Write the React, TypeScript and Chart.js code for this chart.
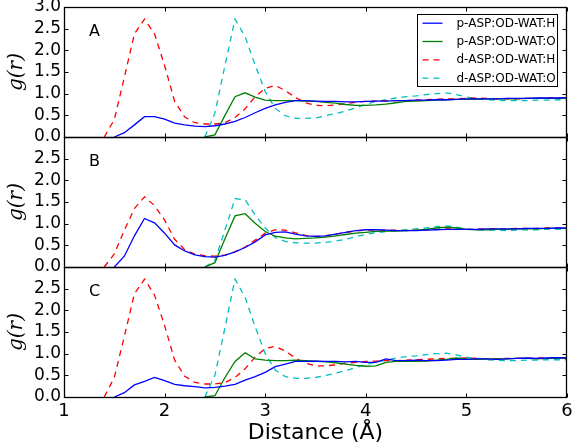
import React, { useEffect, useRef } from "react";
import { Chart, registerables } from "chart.js";
Chart.register(...registerables);

// distance grid (Å)
const DIST = [1.4, 1.5, 1.6, 1.7, 1.8, 1.9, 2.0, 2.1, 2.2, 2.3, 2.4, 2.5, 2.6, 2.7, 2.8, 2.9, 3.0, 3.1, 3.2, 3.3, 3.4, 3.5, 3.6, 3.7, 3.8, 3.9, 4.0, 4.1, 4.2, 4.3, 4.4, 4.5, 4.6, 4.7, 4.8, 4.9, 5.0, 5.1, 5.2, 5.3, 5.4, 5.5, 5.6, 5.7, 5.8, 5.9, 6.0];

const X_TICKS = [1, 2, 3, 4, 5, 6];
const Y_TICKS = [0, 0.5, 1.0, 1.5, 2.0, 2.5, 3.0];
const PANELS = ["A", "B", "C"];
const SERIES_NAMES = ["p-ASP:OD-WAT:H", "p-ASP:OD-WAT:O", "d-ASP:OD-WAT:H", "d-ASP:OD-WAT:O"];
const N = null;

// Panel A
const pH_A = [N, 0, 0.1, 0.28, 0.47, 0.47, 0.41, 0.32, 0.28, 0.25, 0.24, 0.26, 0.3, 0.36, 0.45, 0.56, 0.66, 0.74, 0.8, 0.84, 0.84, 0.83, 0.82, 0.82, 0.81, 0.81, 0.82, 0.83, 0.83, 0.84, 0.84, 0.85, 0.85, 0.86, 0.86, 0.87, 0.88, 0.88, 0.88, 0.88, 0.89, 0.89, 0.89, 0.9, 0.9, 0.9, 0.91];
const pO_A = [N, N, N, N, N, N, N, N, N, N, 0, 0.05, 0.5, 0.93, 1.02, 0.92, 0.85, 0.84, 0.84, 0.84, 0.83, 0.82, 0.8, 0.78, 0.75, 0.73, 0.73, 0.74, 0.76, 0.79, 0.82, 0.83, 0.84, 0.85, 0.86, 0.87, 0.87, 0.87, 0.88, 0.88, 0.88, 0.88, 0.89, 0.89, 0.89, 0.89, 0.89];
const dH_A = [0, 0.4, 1.38, 2.38, 2.72, 2.38, 1.65, 0.82, 0.46, 0.33, 0.3, 0.3, 0.33, 0.45, 0.65, 0.93, 1.12, 1.19, 1.07, 0.91, 0.79, 0.73, 0.72, 0.74, 0.77, 0.8, 0.82, 0.83, 0.84, 0.84, 0.84, 0.85, 0.86, 0.87, 0.88, 0.88, 0.89, 0.9, 0.89, 0.88, 0.88, 0.88, 0.89, 0.89, 0.9, 0.9, 0.9];
const dO_A = [N, N, N, N, N, N, N, N, N, N, 0, 0.55, 1.65, 2.72, 2.32, 1.66, 1.05, 0.66, 0.49, 0.43, 0.43, 0.44, 0.49, 0.54, 0.6, 0.67, 0.75, 0.82, 0.86, 0.9, 0.93, 0.95, 0.98, 1.0, 1.02, 0.98, 0.92, 0.88, 0.86, 0.85, 0.84, 0.84, 0.84, 0.85, 0.85, 0.86, 0.86];

// Panel B
const pH_B = [N, 0, 0.25, 0.72, 1.12, 1.02, 0.78, 0.51, 0.37, 0.28, 0.24, 0.23, 0.27, 0.35, 0.45, 0.58, 0.74, 0.8, 0.81, 0.76, 0.72, 0.71, 0.72, 0.76, 0.8, 0.84, 0.86, 0.86, 0.85, 0.84, 0.84, 0.84, 0.85, 0.86, 0.87, 0.87, 0.87, 0.87, 0.88, 0.88, 0.88, 0.88, 0.89, 0.89, 0.89, 0.9, 0.9];
const pO_B = [N, N, N, N, N, N, N, N, N, N, 0, 0.1, 0.65, 1.18, 1.23, 1.01, 0.82, 0.71, 0.67, 0.65, 0.66, 0.67, 0.69, 0.72, 0.75, 0.78, 0.8, 0.82, 0.83, 0.83, 0.84, 0.85, 0.87, 0.9, 0.92, 0.9, 0.87, 0.86, 0.86, 0.87, 0.87, 0.88, 0.88, 0.88, 0.89, 0.89, 0.89];
const dH_B = [0, 0.3, 0.85, 1.35, 1.62, 1.42, 1.08, 0.64, 0.4, 0.3, 0.26, 0.25, 0.28, 0.35, 0.46, 0.62, 0.78, 0.86, 0.85, 0.79, 0.73, 0.7, 0.72, 0.76, 0.8, 0.83, 0.85, 0.85, 0.85, 0.85, 0.84, 0.85, 0.86, 0.87, 0.88, 0.88, 0.87, 0.87, 0.88, 0.88, 0.88, 0.89, 0.89, 0.89, 0.9, 0.9, 0.9];
const dO_B = [N, N, N, N, N, N, N, N, N, N, 0, 0.15, 0.85, 1.58, 1.55, 1.2, 0.9, 0.68, 0.59, 0.56, 0.55, 0.55, 0.57, 0.6, 0.64, 0.7, 0.75, 0.79, 0.82, 0.84, 0.86, 0.88, 0.9, 0.93, 0.95, 0.92, 0.88, 0.86, 0.85, 0.85, 0.84, 0.85, 0.86, 0.86, 0.87, 0.87, 0.87];

// Panel C
const pH_C = [N, 0, 0.1, 0.28, 0.36, 0.45, 0.38, 0.29, 0.26, 0.24, 0.21, 0.22, 0.25, 0.29, 0.39, 0.47, 0.57, 0.7, 0.76, 0.82, 0.82, 0.83, 0.82, 0.82, 0.81, 0.82, 0.8, 0.8, 0.88, 0.84, 0.84, 0.85, 0.84, 0.84, 0.85, 0.87, 0.87, 0.88, 0.88, 0.87, 0.88, 0.89, 0.9, 0.89, 0.9, 0.91, 0.9];
const pO_C = [N, N, N, N, N, N, N, N, N, N, 0, 0.03, 0.45, 0.82, 1.02, 0.88, 0.85, 0.84, 0.84, 0.85, 0.84, 0.83, 0.81, 0.79, 0.76, 0.73, 0.71, 0.72, 0.8, 0.82, 0.82, 0.82, 0.83, 0.85, 0.87, 0.9, 0.88, 0.87, 0.88, 0.88, 0.88, 0.89, 0.89, 0.88, 0.89, 0.9, 0.89];
const dH_C = [0, 0.45, 1.4, 2.38, 2.72, 2.35, 1.65, 0.85, 0.48, 0.34, 0.3, 0.3, 0.33, 0.45, 0.65, 0.92, 1.12, 1.17, 1.06, 0.9, 0.78, 0.72, 0.72, 0.74, 0.78, 0.8, 0.82, 0.83, 0.84, 0.84, 0.85, 0.86, 0.87, 0.88, 0.89, 0.89, 0.9, 0.89, 0.88, 0.88, 0.89, 0.89, 0.89, 0.9, 0.9, 0.9, 0.9];
const dO_C = [N, N, N, N, N, N, N, N, N, N, 0, 0.5, 1.6, 2.72, 2.3, 1.62, 1.0, 0.62, 0.47, 0.43, 0.43, 0.45, 0.5, 0.55, 0.61, 0.68, 0.75, 0.8, 0.85, 0.9, 0.93, 0.95, 0.98, 1.0, 1.01, 0.97, 0.92, 0.88, 0.86, 0.85, 0.84, 0.84, 0.85, 0.85, 0.86, 0.86, 0.86];

const PANEL_DATA = [
  [pH_A, pO_A, dH_A, dO_A],
  [pH_B, pO_B, dH_B, dO_B],
  [pH_C, pO_C, dH_C, dO_C],
];

const COLORS = ["#0000ff", "#008000", "#ff0000", "#00bfbf"];
const DASHES: number[][] = [[], [], [6, 5], [6, 5]];
const AXIS_IDS = ["yA", "yB", "yC"];

const framePlugin = {
  id: "frames",
  afterDatasetsDraw(chart: any) {
    const ctx = chart.ctx;
    const xs = chart.scales.x;
    ctx.save();
    ctx.strokeStyle = "#000";
    ctx.fillStyle = "#000";
    AXIS_IDS.forEach((id, k) => {
      const s = chart.scales[id];
      const L = Math.round(xs.left) + 0.5;
      const R = Math.round(xs.right) - 0.5;
      const T = Math.round(s.top) + 0.5;
      const B = Math.round(s.bottom) + 0.5;
      ctx.lineWidth = 1;
      ctx.setLineDash([]);
      ctx.beginPath();
      for (const v of X_TICKS) {
        const px = Math.round(xs.getPixelForValue(v)) + 0.5;
        ctx.moveTo(px, T);
        ctx.lineTo(px, T + 4);
        ctx.moveTo(px, B);
        ctx.lineTo(px, B - 4);
      }
      for (const v of Y_TICKS) {
        const py = Math.round(s.getPixelForValue(v)) + 0.5;
        ctx.moveTo(L, py);
        ctx.lineTo(L + 4, py);
        ctx.moveTo(R, py);
        ctx.lineTo(R - 4, py);
      }
      ctx.stroke();
      ctx.lineWidth = 1.3;
      ctx.strokeRect(L, T, R - L, B - T);
      ctx.font = '16px "DejaVu Sans"';
      ctx.textAlign = "left";
      ctx.textBaseline = "middle";
      ctx.fillText(PANELS[k], xs.left + 25, s.top + 25);
    });

    // legend inside panel A
    const sA = chart.scales.yA;
    const bx = Math.round(xs.right) - 149.5;
    const by = Math.round(sA.top) + 7.5;
    const bw = 140;
    const bh = 72;
    ctx.fillStyle = "#fff";
    ctx.fillRect(bx, by, bw, bh);
    ctx.lineWidth = 1;
    ctx.strokeStyle = "#000";
    ctx.strokeRect(bx, by, bw, bh);
    ctx.font = '12px "DejaVu Sans"';
    ctx.textBaseline = "middle";
    SERIES_NAMES.forEach((name, i) => {
      const cy = by + 8.7 + i * 18.3;
      ctx.strokeStyle = COLORS[i];
      ctx.lineWidth = 1.3;
      ctx.setLineDash(DASHES[i]);
      ctx.beginPath();
      ctx.moveTo(bx + 5, cy);
      ctx.lineTo(bx + 25, cy);
      ctx.stroke();
      ctx.setLineDash([]);
      ctx.fillStyle = "#000";
      ctx.fillText(name, bx + 39, cy + 0.5);
    });
    ctx.restore();
  },
};

function yAxis(weight: number, showTop: boolean) {
  return {
    type: "linear",
    position: "left",
    stack: "rdf",
    stackWeight: 1,
    weight,
    min: 0,
    max: 3,
    afterBuildTicks: (s: any) => {
      s.ticks = Y_TICKS.map((v) => ({ value: v }));
    },
    afterFit: (s: any) => {
      s.width = 64;
      s.paddingTop = 0;
      s.paddingBottom = 0;
      s.paddingLeft = 0;
      s.paddingRight = 0;
    },
    grid: { display: false, drawTicks: false },
    border: { display: false },
    ticks: {
      padding: 3,
      autoSkip: false,
      color: "#000",
      font: { family: "DejaVu Sans", size: 17 },
      callback: (v: any) => (!showTop && Number(v) === 3 ? "" : Number(v).toFixed(1)),
    },
    title: {
      display: true,
      text: "g(r)",
      color: "#000",
      font: { family: "DejaVu Serif", size: 20, style: "italic" },
      padding: { top: 5, bottom: 0 },
    },
  };
}

export default function App() {
  const ref = useRef<HTMLCanvasElement | null>(null);
  useEffect(() => {
    if (!ref.current) return;
    const datasets: any[] = [];
    PANEL_DATA.forEach((series, p) => {
      series.forEach((vals, i) => {
        datasets.push({
          label: SERIES_NAMES[i],
          data: DIST.map((x, j) => ({ x, y: vals[j] })),
          yAxisID: AXIS_IDS[p],
          borderColor: COLORS[i],
          backgroundColor: COLORS[i],
          borderWidth: 1.3,
          borderDash: DASHES[i],
          pointRadius: 0,
          fill: false,
          tension: 0,
          spanGaps: false,
        });
      });
    });
    const chart = new Chart(ref.current, {
      type: "line",
      data: { datasets },
      options: {
        animation: false,
        responsive: false,
        maintainAspectRatio: false,
        layout: { padding: { top: 7, right: 7, left: 0, bottom: 0 } },
        plugins: { legend: { display: false }, tooltip: { enabled: false } },
        scales: {
          x: {
            type: "linear",
            position: "bottom",
            min: 1,
            max: 6,
            afterBuildTicks: (s: any) => {
              s.ticks = X_TICKS.map((v) => ({ value: v }));
            },
            afterFit: (s: any) => {
              s.height = 49;
              s.paddingTop = 0;
              s.paddingBottom = 0;
              s.paddingLeft = 0;
              s.paddingRight = 0;
            },
            grid: { display: false, drawTicks: false },
            border: { display: false },
            ticks: {
              padding: 4,
              autoSkip: false,
              maxRotation: 0,
              color: "#000",
              font: { family: "DejaVu Sans", size: 18 },
              callback: (v: any) => String(v),
            },
            title: {
              display: true,
              text: "Distance (Å)",
              color: "#000",
              font: { family: "DejaVu Sans", size: 22 },
              padding: { top: 0, bottom: 0 },
            },
          },
          yA: yAxis(3, true),
          yB: yAxis(2, false),
          yC: yAxis(1, false),
        } as any,
      },
      plugins: [framePlugin],
    } as any);
    return () => chart.destroy();
  }, []);
  return (
    <div style={{ position: "fixed", left: 0, top: 0, width: 574, height: 446, background: "#fff" }}>
      <canvas ref={ref} width={574} height={446} style={{ display: "block" }} />
    </div>
  );
}
